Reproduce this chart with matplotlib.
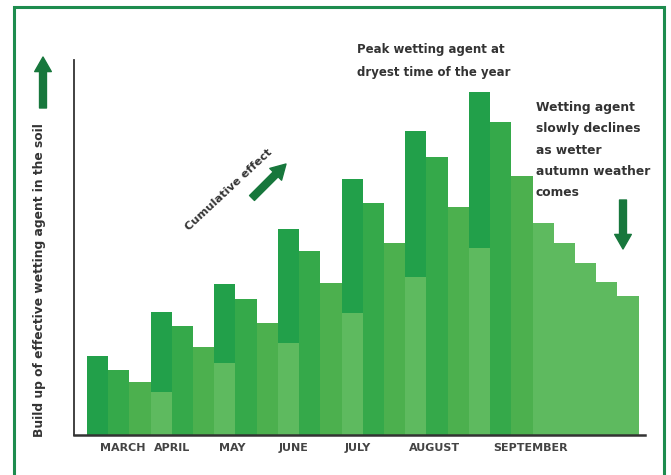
import matplotlib
matplotlib.use("Agg")
import matplotlib.pyplot as plt
from matplotlib.patches import Rectangle

# bar heights (arbitrary units, baseline = 0)
months = ["MARCH", "APRIL", "MAY", "JUNE", "JULY", "AUGUST", "SEPTEMBER"]
first_top = [79, 123, 151, 206, 256, 304, 343]    # first bar of each month (new application)
first_base = [0, 43, 72, 92, 122, 158, 187]       # light residual under it
second_top = [65, 109, 136, 184, 232, 278, 313]
third_top = [53, 88, 112, 152, 192, 228, 259]
decline = [212, 192, 172, 153, 139]               # after September
label_pos = [1.7, 4.0, 6.85, 9.75, 12.75, 16.4, 20.9]

c_dark = "#22a04a"
c_mid = "#35a94a"
c_third = "#4cb04e"
c_light = "#5eba5f"
c_arrow = "#17773c"
c_text = "#333333"

fig = plt.figure(figsize=(6.71, 4.75), dpi=100)
ax = fig.add_axes([74/671, 1-435/475, (645-74)/671, (435-60)/475])

for m in range(len(months)):
    x0 = 3*m
    if first_base[m] > 0:
        ax.bar(x0, first_base[m], width=1, align="edge", color=c_light, linewidth=0)
    ax.bar(x0, first_top[m]-first_base[m], bottom=first_base[m], width=1, align="edge",
           color=c_dark, linewidth=0)
    ax.bar(x0+1, second_top[m], width=1, align="edge", color=c_mid, linewidth=0)
    ax.bar(x0+2, third_top[m], width=1, align="edge", color=c_third, linewidth=0)

xs = [3*len(months)+i for i in range(len(decline))]
ax.bar(xs, decline, width=1, align="edge", color=c_light, linewidth=0)

ax.set_xlim(-0.61, 26.3)
ax.set_ylim(0, 375)
ax.spines["top"].set_visible(False)
ax.spines["right"].set_visible(False)
ax.spines["left"].set_color("#333333")
ax.spines["bottom"].set_color("#333333")
ax.spines["left"].set_linewidth(1.3)
ax.spines["bottom"].set_linewidth(1.8)
ax.set_yticks([])
ax.set_xticks(label_pos)
ax.set_xticklabels(months, fontsize=8, fontweight="bold", color="#444444")
ax.tick_params(axis="x", length=0, pad=6)

def fx(px):
    return px/671

def fy(py):
    return 1-py/475

fig.text(fx(40), fy(280), "Build up of effective wetting agent in the soil", rotation=90,
         ha="center", va="center", fontsize=8.8, fontweight="bold", color=c_text)
fig.text(fx(229), fy(190), "Cumulative effect", rotation=43, ha="center", va="center",
         fontsize=8.2, fontweight="bold", color=c_text)
fig.text(fx(357), fy(61), "Peak wetting agent at\ndryest time of the year", ha="left", va="center",
         fontsize=8.5, fontweight="bold", color=c_text, linespacing=1.95)
fig.text(fx(536), fy(150), "Wetting agent\nslowly declines\nas wetter\nautumn weather\ncomes",
         ha="left", va="center", fontsize=8.8, fontweight="bold", color=c_text, linespacing=1.82)

arrow = dict(arrowstyle="simple,head_width=1.2,head_length=1.05,tail_width=0.5",
             mutation_scale=10, color=c_arrow, shrinkA=0, shrinkB=0)
ax.annotate("", xy=(43, 475-57), xytext=(43, 475-108), xycoords="figure pixels",
            textcoords="figure pixels", arrowprops=arrow, annotation_clip=False)
ax.annotate("", xy=(286, 475-164), xytext=(252, 475-198), xycoords="figure pixels",
            textcoords="figure pixels", arrowprops=arrow, annotation_clip=False)
ax.annotate("", xy=(623, 475-249), xytext=(623, 475-200), xycoords="figure pixels",
            textcoords="figure pixels", arrowprops=arrow, annotation_clip=False)

fig.add_artist(Rectangle((fx(14), fy(480)), fx(664-14), (480-7)/475, transform=fig.transFigure,
                         fill=False, edgecolor="#1e8c4e", linewidth=2.2))

fig.savefig("out.png", dpi=100)
